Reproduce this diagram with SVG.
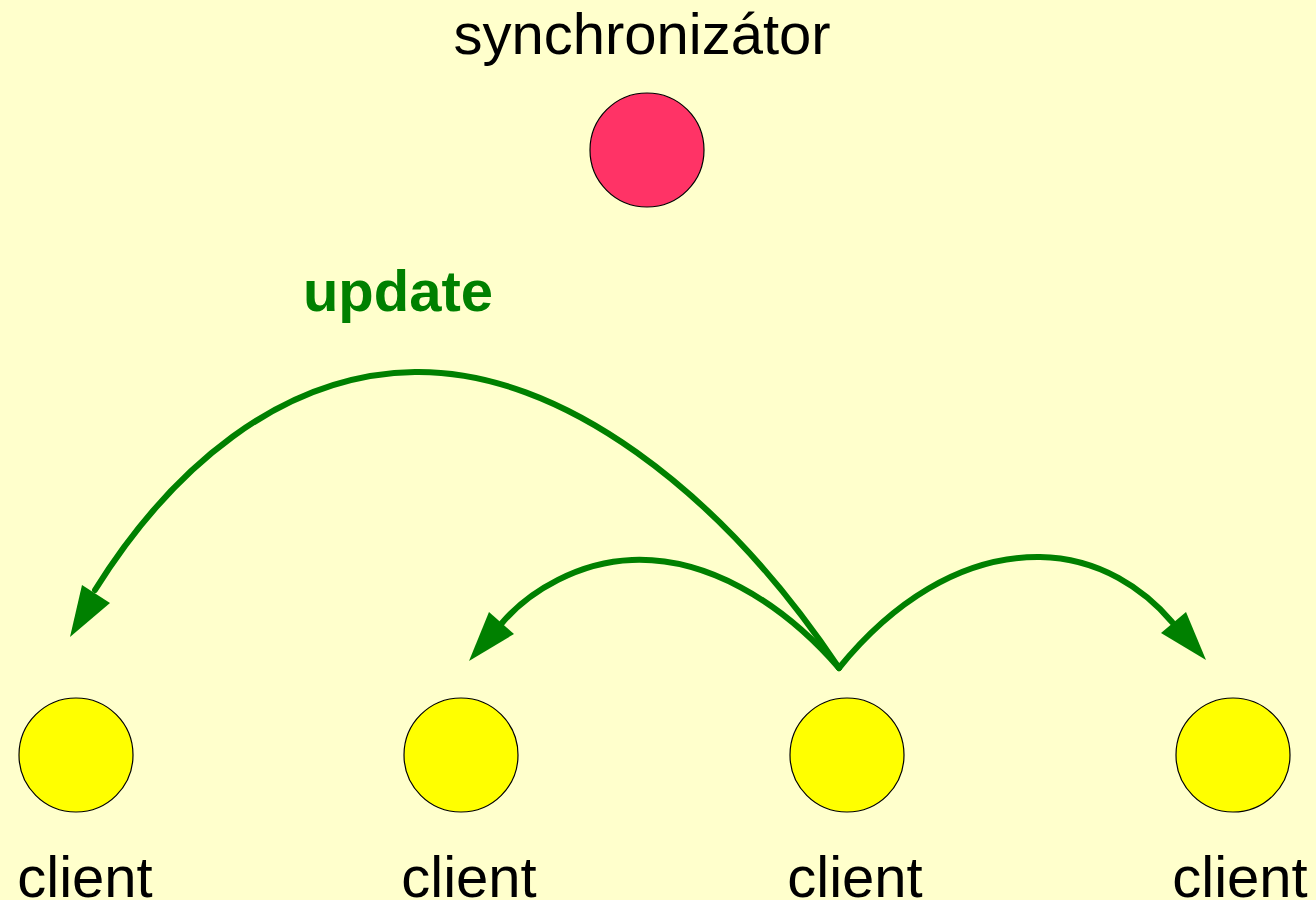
<svg xmlns="http://www.w3.org/2000/svg" width="1316" height="900" viewBox="0 0 1316 900">
<style>
.lbl{font-family:"Liberation Sans",Arial,sans-serif;font-size:58px;fill:#000;text-anchor:middle}
.client{fill:#FFFF00;stroke:#000;stroke-width:1.2}
.conn{fill:none;stroke:#008000;stroke-width:6;stroke-linecap:round;stroke-linejoin:round}
.head{fill:#008000}
</style>
<rect width="1316" height="900" fill="#FFFFCC"/>
<g id="synchronizator">
<circle cx="647" cy="150" r="57" fill="#FF3366" stroke="#000" stroke-width="1.2"/>
<text class="lbl" x="642" y="54">synchronizátor</text>
</g>
<g id="client1"><circle class="client" cx="76" cy="755" r="57"/><text class="lbl" x="85" y="897">client</text></g>
<g id="client2"><circle class="client" cx="461" cy="755" r="57"/><text class="lbl" x="469" y="897">client</text></g>
<g id="client3"><circle class="client" cx="847" cy="755" r="57"/><text class="lbl" x="855" y="897">client</text></g>
<g id="client4"><circle class="client" cx="1233" cy="755" r="57"/><text class="lbl" x="1240" y="897">client</text></g>
<g id="connectors">
<path class="conn" d="M 839 668 C 720 490, 560 370, 415 372 C 280 374, 170 470, 95 590"/>
<polygon class="head" points="70,637 82,585 110,603"/>
<path class="conn" d="M 839 668 C 780 600, 705 557, 632 560 C 580 562, 530 590, 502 623"/>
<polygon class="head" points="469,661 489,612 514,634"/>
<path class="conn" d="M 839 668 C 890 605, 960 556, 1040 557 C 1100 558, 1145 590, 1172 622"/>
<polygon class="head" points="1206,660 1186,612 1161,633"/>
<text x="398" y="311" font-family="'Liberation Sans',Arial,sans-serif" font-size="58" font-weight="bold" fill="#008000" text-anchor="middle">update</text>
</g>
</svg>
